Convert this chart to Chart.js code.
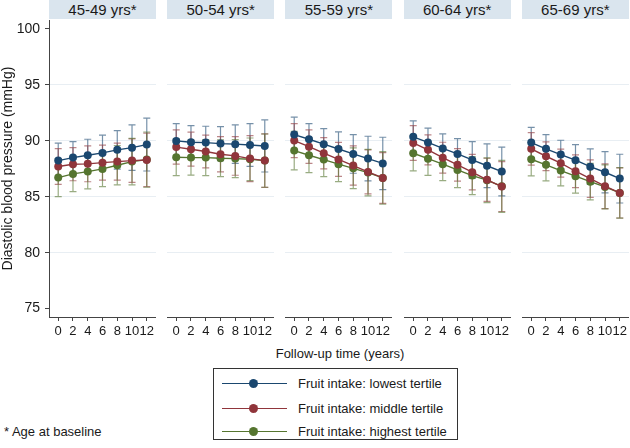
<!DOCTYPE html>
<html>
<head>
<meta charset="utf-8">
<script src="https://cdn.jsdelivr.net/npm/chart.js@4.4.1/dist/chart.umd.min.js"></script>
<style>
  body { margin: 0; background: #fff; font-family: "Liberation Sans", Arial, sans-serif; }
  #wrap { position: relative; width: 630px; height: 448px; overflow: hidden; }
  .head { position: absolute; top: 0; height: 19px; background: #dae5ee; color: #1a1a1a;
          font-size: 15px; line-height: 20px; text-align: center; }
  .panel { position: absolute; top: 20px; }
  #xtitle { position: absolute; left: 240px; width: 200px; top: 346px; text-align: center; font-size: 13px; color: #1a1a1a; }
  #note { position: absolute; left: 4px; top: 424px; font-size: 13px; color: #1a1a1a; }
  #legend { position: absolute; left: 213px; top: 368px; width: 243px; height: 70px; border: 1px solid #333; }
  .item { position: absolute; left: 0; height: 16px; width: 243px; }
  .item .ln { position: absolute; left: 8px; top: 7px; width: 65px; height: 0; border-top: 1.5px solid; }
  .item .dot { position: absolute; left: 35px; top: 3px; width: 9px; height: 9px; border-radius: 50%; }
  .item .tx { position: absolute; left: 84px; top: 0; font-size: 13px; line-height: 16px; color: #1a1a1a; white-space: nowrap; }
</style>
</head>
<body>
<div id="wrap">
  <div id="xtitle">Follow-up time (years)</div>
  <div id="note">* Age at baseline</div>
  <div id="legend"></div>
</div>
<script>
// Data
const AGE_GROUPS = ['45-49 yrs*', '50-54 yrs*', '55-59 yrs*', '60-64 yrs*', '65-69 yrs*'];
const YEARS = [0, 2, 4, 6, 8, 10, 12];
const Y_TICKS = [75, 80, 85, 90, 95, 100];
const SERIES = ['Fruit intake: lowest tertile', 'Fruit intake: middle tertile', 'Fruit intake: highest tertile'];

// one row per age group
const LOWEST_MEAN = [
    [88.23, 88.50, 88.71, 88.92, 89.19, 89.39, 89.66],
    [89.99, 89.87, 89.84, 89.75, 89.70, 89.63, 89.54],
    [90.56, 90.14, 89.70, 89.27, 88.83, 88.41, 87.98],
    [90.36, 89.86, 89.32, 88.83, 88.29, 87.77, 87.25],
    [89.84, 89.28, 88.77, 88.27, 87.69, 87.19, 86.62]
];
const LOWEST_CI = [
    [1.56, 1.43, 1.43, 1.58, 1.72, 2.03, 2.36],
    [1.55, 1.49, 1.46, 1.52, 1.72, 1.91, 2.33],
    [1.55, 1.40, 1.39, 1.53, 1.73, 2.00, 2.34],
    [1.42, 1.27, 1.30, 1.37, 1.64, 1.96, 2.18],
    [1.37, 1.28, 1.28, 1.39, 1.59, 1.84, 2.18]
];
const MIDDLE_MEAN = [
    [87.70, 87.91, 87.94, 88.05, 88.14, 88.23, 88.29],
    [89.44, 89.25, 89.04, 88.80, 88.65, 88.41, 88.23],
    [90.02, 89.48, 88.89, 88.34, 87.79, 87.22, 86.68],
    [89.81, 89.19, 88.49, 87.85, 87.20, 86.51, 85.91],
    [89.28, 88.62, 88.00, 87.28, 86.62, 85.94, 85.34]
];
const MIDDLE_CI = [
    [1.60, 1.48, 1.60, 1.56, 1.65, 1.94, 2.39],
    [1.53, 1.52, 1.46, 1.58, 1.73, 2.05, 2.39],
    [1.52, 1.49, 1.40, 1.52, 1.76, 1.97, 2.27],
    [1.55, 1.34, 1.38, 1.45, 1.58, 1.93, 2.23],
    [1.45, 1.28, 1.25, 1.46, 1.67, 2.00, 2.24]
];
const HIGHEST_MEAN = [
    [86.71, 87.04, 87.25, 87.49, 87.82, 88.14, 88.32],
    [88.53, 88.50, 88.50, 88.44, 88.41, 88.35, 88.23],
    [89.13, 88.71, 88.32, 87.91, 87.54, 87.16, 86.68],
    [88.89, 88.40, 87.91, 87.40, 86.89, 86.48, 85.93],
    [88.35, 87.85, 87.34, 86.84, 86.35, 85.88, 85.34]
];
const HIGHEST_CI = [
    [1.70, 1.58, 1.55, 1.58, 1.76, 2.08, 2.47],
    [1.64, 1.57, 1.61, 1.64, 1.70, 1.90, 2.38],
    [1.72, 1.55, 1.52, 1.56, 1.82, 2.08, 2.35],
    [1.58, 1.49, 1.47, 1.58, 1.70, 2.00, 2.32],
    [1.49, 1.43, 1.37, 1.52, 1.63, 1.97, 2.26]
];

const MEANS = [LOWEST_MEAN, MIDDLE_MEAN, HIGHEST_MEAN];
const CIS = [LOWEST_CI, MIDDLE_CI, HIGHEST_CI];
const COLORS = ['#1a476f', '#90353b', '#55752f'];
const CAP_COLORS = ['rgba(26,71,111,0.6)', 'rgba(144,53,59,0.6)', 'rgba(85,117,47,0.6)'];

Chart.defaults.font.family = '"Liberation Sans", Arial, sans-serif';
Chart.defaults.color = '#1a1a1a';

const wrap = document.getElementById('wrap');
const PLOT_LEFT = 49, PLOT_STEP = 118.2, PLOT_W = 107, Y_AXIS_W = 49;
const CANVAS_H = 325, PLOT_H = 297;

// error bars drawn behind the lines, positioned through the chart's scales
const errorBars = {
    id: 'errorBars',
    beforeDatasetsDraw(chart) {
        const { ctx, scales: { x, y } } = chart;
        chart.data.datasets.forEach((ds, s) => {
            ctx.save();
            ctx.strokeStyle = CAP_COLORS[s];
            ctx.lineWidth = 1.2;
            ds.data.forEach((p, k) => {
                const px = x.getPixelForValue(p.x);
                const top = y.getPixelForValue(p.y + ds.ci[k]);
                const bot = y.getPixelForValue(p.y - ds.ci[k]);
                ctx.beginPath();
                ctx.moveTo(px, top); ctx.lineTo(px, bot);
                ctx.moveTo(px - 3.5, top); ctx.lineTo(px + 3.5, top);
                ctx.moveTo(px - 3.5, bot); ctx.lineTo(px + 3.5, bot);
                ctx.stroke();
            });
            ctx.restore();
        });
    }
};

function noPadding(scale) {
    scale.paddingTop = 0; scale.paddingBottom = 0;
    scale.paddingLeft = 0; scale.paddingRight = 0;
}

function makePanel(i) {
    const first = i === 0;
    const plotX = PLOT_LEFT + i * PLOT_STEP;

    const head = document.createElement('div');
    head.className = 'head';
    head.style.left = plotX + 'px';
    head.style.width = PLOT_W + 'px';
    head.textContent = AGE_GROUPS[i];
    wrap.appendChild(head);

    const box = document.createElement('div');
    box.className = 'panel';
    const canvas = document.createElement('canvas');
    const w = first ? PLOT_W + Y_AXIS_W : PLOT_W;
    canvas.width = w;
    canvas.height = CANVAS_H;
    box.style.left = (first ? 0 : plotX) + 'px';
    box.appendChild(canvas);
    wrap.appendChild(box);

    const datasets = SERIES.map((name, s) => ({
        label: name,
        data: YEARS.map((yr, k) => ({ x: yr, y: MEANS[s][i][k] })),
        ci: CIS[s][i],
        borderColor: COLORS[s],
        backgroundColor: COLORS[s],
        borderWidth: 1.4,
        pointRadius: 4,
        pointBorderWidth: 0,
        pointHoverRadius: 4,
        tension: 0
    }));

    new Chart(canvas, {
        type: 'line',
        data: { datasets },
        plugins: [errorBars],
        options: {
            responsive: false,
            animation: false,
            events: [],
            layout: { padding: 0, autoPadding: false },
            plugins: { legend: { display: false }, tooltip: { enabled: false } },
            scales: {
                x: {
                    type: 'linear',
                    min: -1.25,
                    max: 13.25,
                    afterBuildTicks: (s) => { s.ticks = YEARS.map(v => ({ value: v })); },
                    afterFit: (s) => { s.height = CANVAS_H - PLOT_H; noPadding(s); },
                    border: { display: true, color: '#444', width: 1 },
                    grid: { drawOnChartArea: false, drawTicks: true, tickLength: 4, tickColor: '#444' },
                    ticks: { autoSkip: false, maxRotation: 0, padding: 3, font: { size: 13 }, color: '#1a1a1a' }
                },
                y: {
                    min: 74.25,
                    max: 100.8,
                    afterBuildTicks: (s) => { s.ticks = Y_TICKS.map(v => ({ value: v })); },
                    afterFit: (s) => { s.width = first ? Y_AXIS_W : 0; noPadding(s); },
                    border: { display: first, color: '#444', width: 1 },
                    grid: {
                        color: (c) => (c.tick && c.tick.value > 75 && c.tick.value < 100) ? '#e8eef3' : 'rgba(0,0,0,0)',
                        drawTicks: first,
                        tickLength: 4,
                        tickColor: '#444'
                    },
                    ticks: { display: first, padding: 5, font: { size: 14 }, color: '#1a1a1a' },
                    title: {
                        display: first,
                        text: 'Diastolic blood pressure (mmHg)',
                        font: { size: 14 },
                        color: '#1a1a1a',
                        padding: { top: 0, bottom: 0 }
                    }
                }
            }
        }
    });
}

AGE_GROUPS.forEach((g, i) => makePanel(i));

// legend box below the panels
const legend = document.getElementById('legend');
const LEGEND_ROWS = [7, 32, 55];
SERIES.forEach((name, s) => {
    const item = document.createElement('div');
    item.className = 'item';
    item.style.top = LEGEND_ROWS[s] + 'px';
    item.innerHTML = '<div class="ln"></div><div class="dot"></div><div class="tx"></div>';
    item.querySelector('.ln').style.borderTopColor = COLORS[s];
    item.querySelector('.dot').style.background = COLORS[s];
    item.querySelector('.tx').textContent = name;
    legend.appendChild(item);
});
</script>
</body>
</html>
